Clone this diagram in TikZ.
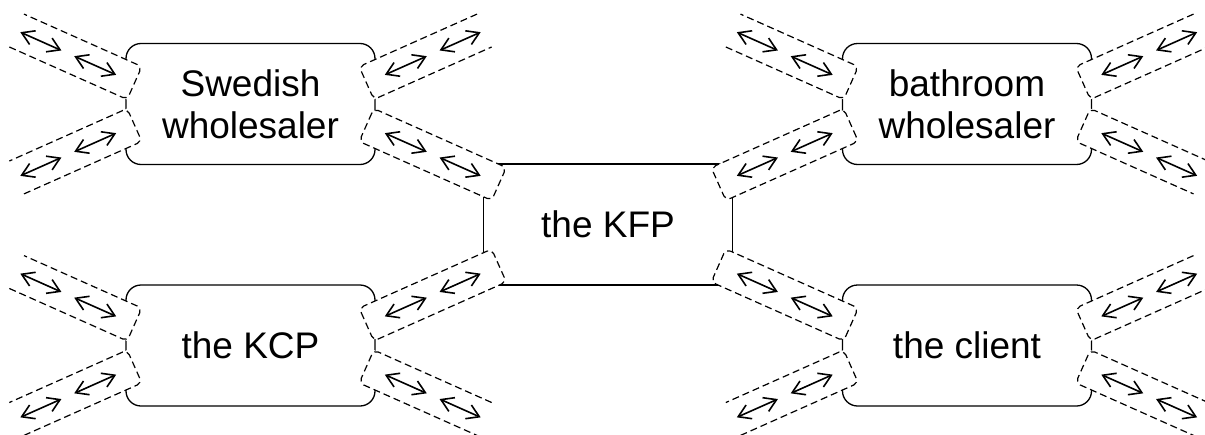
\documentclass[tikz,border=0pt]{standalone}
\usepackage{fontspec}
\setmainfont{Liberation Sans}
\usetikzlibrary{arrows.meta,calc}
\begin{document}
\begin{tikzpicture}[x=1pt, y=-1pt,
    party/.style={draw, line width=1.3pt, rounded corners=15pt, minimum width=249pt,
      minimum height=121pt, inner sep=0pt, align=center, font=\fontsize{37}{42}\selectfont},
    chan/.style={line width=1.2pt, dash pattern=on 7pt off 4pt, rounded corners=5pt},
    dbl/.style={{Straight Barb[length=12pt,width=15pt]}-{Straight Barb[length=12pt,width=15pt]}, line width=1.6pt}]
  \useasboundingbox (0,0) rectangle (1205,434);

  % 1. Las cajas
  \node[party] (swe) at (250.5,104) {Swedish\\wholesaler};
  \node[party] (kcp) at (250.5,345.5) {the KCP};
  \node[party, rounded corners=0pt] (kfp) at (608,224.5) {the KFP};
  \node[party] (bath) at (967,104) {bathroom\\wholesaler};
  \node[party] (cli) at (967,345.5) {the client};

  % 2. Canales abiertos
  \foreach \b/\dx/\dy/\a in {swe/-116/-21/156, swe/-116/21/204, swe/116/-21/24,
      kcp/-116/-21/156, kcp/-116/21/204, kcp/116/21/-24,
      bath/-116/-21/156, bath/116/-21/24, bath/116/21/-24,
      cli/-116/21/204, cli/116/-21/24, cli/116/21/-24}
  {
    \begin{scope}[shift={($(\b)+(\dx,\dy)$)}, rotate=\a]
      \fill[white] (0,-18) rectangle (129,18);
      \draw[chan] (129,-18) -- (0,-18) -- (0,18) -- (129,18);
      \draw[dbl] (20,0) -- (66,0);
      \draw[dbl] (80,0) -- (125,0);
    \end{scope}
  }

  % 3. Canales hacia the KFP
  \foreach \b/\dx/\dy/\a in {swe/116/21/-24, kcp/116/-21/24, bath/-116/21/204, cli/-116/-21/156}
  {
    \begin{scope}[shift={($(\b)+(\dx,\dy)$)}, rotate=\a]
      \draw[chan, fill=white] (0,-18) rectangle (145,18);
      \draw[dbl] (20,0) -- (66,0);
      \draw[dbl] (80,0) -- (125,0);
    \end{scope}
  }
\end{tikzpicture}
\end{document}
